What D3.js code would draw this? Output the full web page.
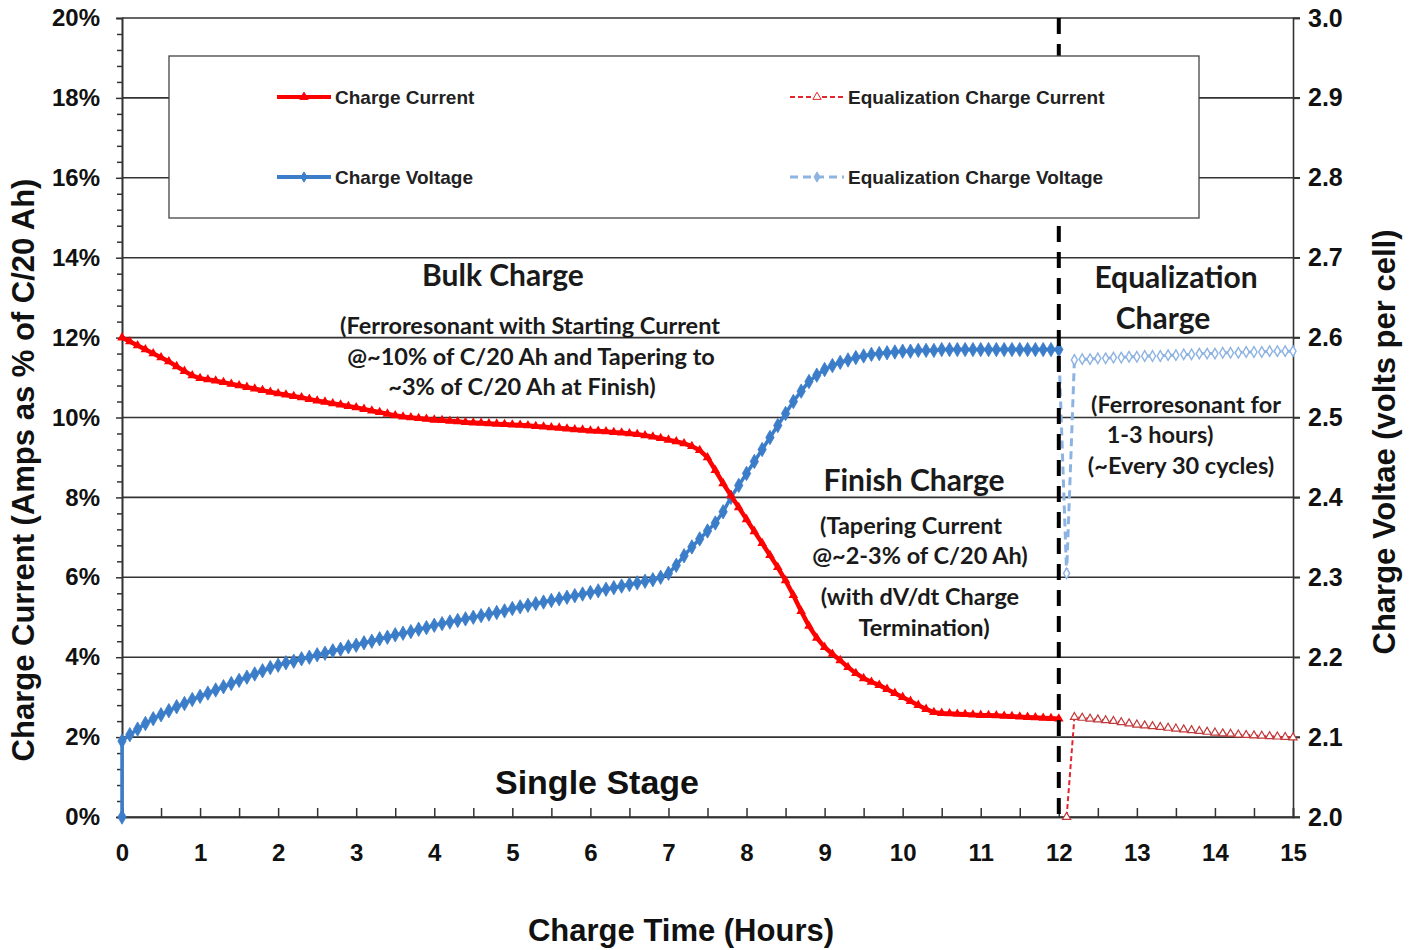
<!DOCTYPE html>
<html><head><meta charset="utf-8">
<script src="https://cdn.jsdelivr.net/npm/d3@7"></script>
<style>body{margin:0;background:#fff}</style>
</head><body><svg id="c" width="1414" height="950"></svg>
<script>
// ---------- DATA ----------
const chargeTime = [0,0.1,0.2,0.3,0.4,0.5,0.6,0.7,0.8,0.9,1.0,1.1,1.2,1.3,1.4,1.5,1.6,1.7,1.8,1.9,2.0,2.1,2.2,2.3,2.4,2.5,2.6,2.7,2.8,2.9,3.0,3.1,3.2,3.3,3.4,3.5,3.6,3.7,3.8,3.9,4.0,4.1,4.2,4.3,4.4,4.5,4.6,4.7,4.8,4.9,5.0,5.1,5.2,5.3,5.4,5.5,5.6,5.7,5.8,5.9,6.0,6.1,6.2,6.3,6.4,6.5,6.6,6.7,6.8,6.9,7.0,7.1,7.2,7.3,7.4,7.5,7.6,7.7,7.8,7.9,8.0,8.1,8.2,8.3,8.4,8.5,8.6,8.7,8.8,8.9,9.0,9.1,9.2,9.3,9.4,9.5,9.6,9.7,9.8,9.9,10.0,10.1,10.2,10.3,10.4,10.5,10.6,10.7,10.8,10.9,11.0,11.1,11.2,11.3,11.4,11.5,11.6,11.7,11.8,11.9,12.0];
const chargeCurrent = [12.0,11.9,11.8,11.7,11.6,11.5,11.4,11.28,11.16,11.05,
 10.98,10.95,10.92,10.88,10.84,10.8,10.76,10.72,10.68,10.64,
 10.6,10.57,10.53,10.5,10.46,10.42,10.39,10.35,10.32,10.28,
 10.25,10.21,10.17,10.13,10.09,10.05,10.02,10.0,9.98,9.96,
 9.94,9.93,9.91,9.9,9.88,9.87,9.86,9.85,9.84,9.83,
 9.82,9.81,9.8,9.78,9.77,9.75,9.74,9.72,9.7,9.69,
 9.67,9.66,9.65,9.63,9.62,9.6,9.58,9.55,9.52,9.48,
 9.44,9.4,9.35,9.28,9.18,9.0,8.68,8.35,8.05,7.75,
 7.45,7.15,6.85,6.55,6.25,5.92,5.55,5.15,4.78,4.48,
 4.25,4.08,3.92,3.75,3.6,3.47,3.38,3.3,3.2,3.1,
 3.0,2.9,2.8,2.7,2.62,2.6,2.59,2.58,2.57,2.56,
 2.55,2.545,2.54,2.53,2.52,2.51,2.5,2.49,2.48,2.47,
 2.46];
const chargeVoltageStart = 2.0; // first reading at t = 0
const chargeVoltage = [2.095,2.103,2.11,2.117,2.123,2.128,2.133,2.138,2.142,2.147,
 2.151,2.155,2.159,2.163,2.167,2.171,2.175,2.179,2.183,2.187,
 2.19,2.193,2.195,2.198,2.2,2.203,2.205,2.208,2.21,2.213,
 2.215,2.218,2.22,2.223,2.225,2.228,2.23,2.232,2.235,2.237,
 2.24,2.242,2.244,2.246,2.248,2.25,2.252,2.254,2.256,2.258,
 2.261,2.263,2.265,2.267,2.269,2.271,2.273,2.275,2.277,2.279,
 2.281,2.283,2.285,2.287,2.289,2.291,2.293,2.295,2.297,2.3,
 2.305,2.315,2.327,2.338,2.348,2.358,2.368,2.382,2.4,2.415,
 2.43,2.445,2.46,2.475,2.49,2.505,2.52,2.533,2.545,2.553,
 2.56,2.565,2.569,2.572,2.575,2.577,2.579,2.58,2.581,2.582,
 2.583,2.583,2.584,2.584,2.584,2.585,2.585,2.585,2.585,2.585,
 2.585,2.585,2.585,2.585,2.585,2.585,2.585,2.585,2.585,2.585,
 2.585];
const eqCurrentTime = [12.1,12.2,12.3,12.4,12.5,12.6,12.7,12.8,12.9,13.0,13.1,13.2,13.3,13.4,13.5,13.6,13.7,13.8,13.9,14.0,14.1,14.2,14.3,14.4,14.5,14.6,14.7,14.8,14.9,15.0];
const eqCurrent = [0,2.5,2.48,2.46,2.44,2.42,2.4,2.37,2.34,2.31,2.29,2.27,2.25,2.23,2.21,2.19,2.17,2.15,2.13,2.11,2.09,2.08,2.06,2.05,2.04,2.03,2.02,2.01,2.0,1.99];
const eqVoltageTime = [12.0,12.1,12.2,12.3,12.4,12.5,12.6,12.7,12.8,12.9,13.0,13.1,13.2,13.3,13.4,13.5,13.6,13.7,13.8,13.9,14.0,14.1,14.2,14.3,14.4,14.5,14.6,14.7,14.8,14.9,15.0];
const eqVoltage = [2.585,2.305,2.572,2.573,2.573,2.574,2.574,2.575,2.575,2.576,2.576,2.577,2.577,2.577,2.578,2.578,2.579,2.579,2.58,2.58,2.58,2.581,2.581,2.581,2.582,2.582,2.582,2.583,2.583,2.583,2.583];
const equalizationStart = 12;

const xTicks = [0,1,2,3,4,5,6,7,8,9,10,11,12,13,14,15];
const xMinorTicks = [0.5,1.5,2.5,3.5,4.5,5.5,6.5,7.5,8.5,9.5,10.5,11.5,12.5,13.5,14.5];
const leftTicks = [0,2,4,6,8,10,12,14,16,18,20];
const leftMinorTicks = [0.4,0.8,1.2,1.6,2.4,2.8,3.2,3.6,4.4,4.8,5.2,5.6,6.4,6.8,7.2,7.6,8.4,8.8,9.2,9.6,10.4,10.8,11.2,11.6,12.4,12.8,13.2,13.6,14.4,14.8,15.2,15.6,16.4,16.8,17.2,17.6,18.4,18.8,19.2,19.6];
const rightTicks = [2.0,2.1,2.2,2.3,2.4,2.5,2.6,2.7,2.8,2.9,3.0];

const legendItems = ["Charge Current","Equalization Charge Current","Charge Voltage","Equalization Charge Voltage"];

// ---------- CHART ----------
const svg = d3.select("#c");
const L=122, R=1293, T=18, B=817;
const x = d3.scaleLinear().domain([0,15]).range([L,R]);
const yL = d3.scaleLinear().domain([0,20]).range([B,T]);
const yR = d3.scaleLinear().domain([2.0,3.0]).range([B,T]);

const RED="#ff0000", BLUE="#3b7dc8", LBLUE="#8db3e2", EQRED="#e3262e";
const tickFont = "'Liberation Sans', Arial, sans-serif";
const calFont = "Lato, 'Open Sans', sans-serif";

// gridlines
svg.append("g").selectAll("line").data(leftTicks).join("line")
  .attr("x1",L).attr("x2",R+7).attr("y1",d=>yL(d)).attr("y2",d=>yL(d))
  .attr("stroke","#333").attr("stroke-width",1.6);

// axes
function styleAxis(g){
  g.selectAll("path.domain").attr("stroke","#333").attr("stroke-width",1.6);
  g.selectAll(".tick line").attr("stroke","#333").attr("stroke-width",1.5);
  g.selectAll("text").attr("font-family",tickFont).attr("font-weight","bold").attr("font-size",24).attr("fill","#111");
}
svg.append("g").attr("transform",`translate(${L},0)`)
  .call(d3.axisLeft(yL).tickValues(leftMinorTicks).tickSize(5).tickFormat(""))
  .call(styleAxis);
svg.append("g").attr("transform",`translate(${L},0)`)
  .call(d3.axisLeft(yL).tickValues(leftTicks).tickSize(6).tickPadding(16).tickFormat(d=>d+"%"))
  .call(styleAxis);
svg.append("g").attr("transform",`translate(${R},0)`)
  .call(d3.axisRight(yR).tickValues(rightTicks).tickSize(7).tickPadding(8).tickFormat(d3.format(".1f")))
  .call(styleAxis).selectAll("text").attr("font-size",25);
svg.append("g").attr("transform",`translate(0,${B})`)
  .call(d3.axisBottom(x).tickValues(xMinorTicks).tickSize(-9).tickFormat(""))
  .call(styleAxis);
svg.append("g").attr("transform",`translate(0,${B})`)
  .call(d3.axisBottom(x).tickValues(xTicks).tickSizeInner(-9).tickSizeOuter(0).tickPadding(27))
  .call(styleAxis);

// series
const line = (ys)=>d3.line().x(d=>x(d[0])).y(d=>ys(d[1]));
const curPts = chargeTime.map((t,i)=>[t,chargeCurrent[i]]);
const voltPts = [[chargeTime[0],chargeVoltageStart]].concat(chargeTime.map((t,i)=>[t,chargeVoltage[i]]));
const eqCurPts = eqCurrentTime.map((t,i)=>[t,eqCurrent[i]]);
const eqVoltPts = eqVoltageTime.map((t,i)=>[t,eqVoltage[i]]);

// equalization voltage
svg.append("path").datum(eqVoltPts).attr("d",line(yR)).attr("fill","none")
  .attr("stroke",LBLUE).attr("stroke-width",3).attr("stroke-dasharray","8,5");
svg.append("g").selectAll("path").data(eqVoltPts).join("path")
  .attr("d",d3.symbol().type(d3.symbolDiamond).size(32)())
  .attr("transform",d=>`translate(${x(d[0])},${yR(d[1])})`)
  .attr("fill","#fff").attr("stroke",LBLUE).attr("stroke-width",1.4);

// equalization current
svg.append("path").datum(eqCurPts).attr("d",line(yL)).attr("fill","none")
  .attr("stroke",EQRED).attr("stroke-width",2).attr("stroke-dasharray","5,3");
svg.append("g").selectAll("path").data(eqCurPts).join("path")
  .attr("d",d3.symbol().type(d3.symbolTriangle).size(28)())
  .attr("transform",d=>`translate(${x(d[0])},${yL(d[1])})`)
  .attr("fill","#fff").attr("stroke","#c0393b").attr("stroke-width",1.2);

// charge voltage
svg.append("path").datum(voltPts).attr("d",line(yR)).attr("fill","none")
  .attr("stroke",BLUE).attr("stroke-width",3.5);
svg.append("g").selectAll("path").data(voltPts).join("path")
  .attr("d",d3.symbol().type(d3.symbolDiamond).size(60)())
  .attr("transform",d=>`translate(${x(d[0])},${yR(d[1])})`)
  .attr("fill",BLUE).attr("stroke",BLUE).attr("stroke-width",0.8);

// charge current
svg.append("path").datum(curPts).attr("d",line(yL)).attr("fill","none")
  .attr("stroke",RED).attr("stroke-width",4.5);
svg.append("g").selectAll("path").data(curPts).join("path")
  .attr("d",d3.symbol().type(d3.symbolTriangle).size(40)())
  .attr("transform",d=>`translate(${x(d[0])},${yL(d[1])})`)
  .attr("fill",RED);

// equalization start marker line
svg.append("line").attr("x1",x(equalizationStart)).attr("x2",x(equalizationStart))
  .attr("y1",T).attr("y2",B).attr("stroke","#000").attr("stroke-width",4).attr("stroke-dasharray","16,10");

// legend box (drawn over the gridlines and marker line)
const lg = svg.append("g");
lg.append("rect").attr("x",169).attr("y",56).attr("width",1030).attr("height",162)
  .attr("fill","#fff").attr("stroke","#444").attr("stroke-width",1.3);
const legPos = [[277,97],[790,97],[277,177],[790,177]];
const legStyle = [
  {c:RED,w:4,dash:null,sym:d3.symbolTriangle,fill:RED},
  {c:EQRED,w:2,dash:"5,3",sym:d3.symbolTriangle,fill:"#fff"},
  {c:BLUE,w:4,dash:null,sym:d3.symbolDiamond,fill:BLUE},
  {c:LBLUE,w:3,dash:"8,5",sym:d3.symbolDiamond,fill:LBLUE}
];
legendItems.forEach((name,i)=>{
  const [px,py]=legPos[i], s=legStyle[i];
  lg.append("line").attr("x1",px).attr("x2",px+54).attr("y1",py).attr("y2",py)
    .attr("stroke",s.c).attr("stroke-width",s.w).attr("stroke-dasharray",s.dash);
  lg.append("path").attr("d",d3.symbol().type(s.sym).size(30)())
    .attr("transform",`translate(${px+27},${py})`).attr("fill",s.fill).attr("stroke",s.c).attr("stroke-width",1);
  lg.append("text").attr("x",px+58).attr("y",py).attr("dy","0.36em")
    .attr("font-family",tickFont).attr("font-weight","bold")
    .attr("font-size",19).attr("fill","#222").text(name);
});

// annotations
const notes = [
  ["Bulk Charge",503,275,30],
  ["(Ferroresonant with Starting Current",530,326,23.5],
  ["@~10% of C/20 Ah and Tapering to",531,357,23.5],
  ["~3% of C/20 Ah at Finish)",522,387,23.5],
  ["Finish Charge",914,480,30],
  ["(Tapering Current",911,526,23.5],
  ["@~2-3% of C/20 Ah)",920,556,23.5],
  ["(with dV/dt Charge",920,597,23.5],
  ["Termination)",924,628,23.5],
  ["Equalization",1176,277,30],
  ["Charge",1163,318,30],
  ["(Ferroresonant for",1186,405,23.5],
  ["1-3 hours)",1160,435,23.5],
  ["(~Every 30 cycles)",1181,466,23.5]
];
svg.append("g").selectAll("text").data(notes).join("text")
  .attr("x",d=>d[1]).attr("y",d=>d[2]).attr("dy","0.35em").attr("text-anchor","middle")
  .attr("font-family",calFont).attr("font-weight","bold").attr("font-size",d=>d[3])
  .attr("fill","#1a1a1a").text(d=>d[0]);

svg.append("text").attr("x",597).attr("y",782).attr("dy","0.35em").attr("text-anchor","middle")
  .attr("font-family",tickFont).attr("font-weight","bold").attr("font-size",34).attr("fill","#111")
  .text("Single Stage");

// axis titles
svg.append("text").attr("x",681).attr("y",930).attr("dy","0.35em").attr("text-anchor","middle")
  .attr("font-family",tickFont).attr("font-weight","bold").attr("font-size",31).attr("fill","#111")
  .text("Charge Time (Hours)");
svg.append("text").attr("transform","translate(23,470) rotate(-90)").attr("dy","0.35em").attr("text-anchor","middle")
  .attr("font-family",tickFont).attr("font-weight","bold").attr("font-size",31).attr("fill","#111")
  .text("Charge Current (Amps as % of C/20 Ah)");
svg.append("text").attr("transform","translate(1384,442) rotate(-90)").attr("dy","0.35em").attr("text-anchor","middle")
  .attr("font-family",tickFont).attr("font-weight","bold").attr("font-size",31).attr("fill","#111")
  .text("Charge Voltae (volts per cell)");
</script></body></html>
